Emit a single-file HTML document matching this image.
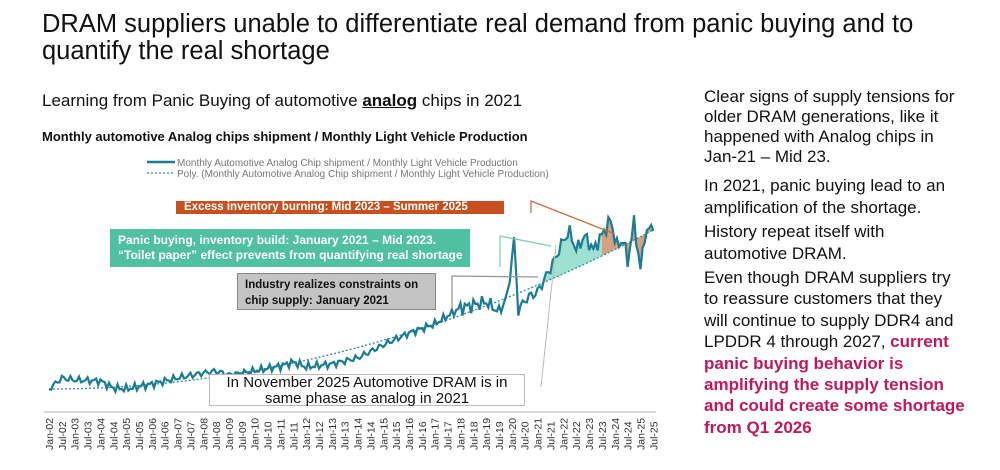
<!DOCTYPE html>
<html><head><meta charset="utf-8"><style>
body{margin:0;width:1000px;height:470px;background:#fff;font-family:"Liberation Sans",Arial,sans-serif;overflow:hidden;position:relative}
.a{position:absolute;white-space:nowrap}
</style></head><body>
<div class="a" style="left:42px;top:11px;font-size:25.5px;line-height:27px;color:#111">DRAM suppliers unable to differentiate real demand from panic buying and to<br>quantify the real shortage</div>
<div class="a" style="left:42px;top:91px;font-size:17px;color:#111">Learning from Panic Buying of automotive <b><u>analog</u></b> chips in 2021</div>
<div class="a" style="left:42px;top:129px;font-size:13px;font-weight:bold;color:#111">Monthly automotive Analog chips shipment / Monthly Light Vehicle Production</div>
<div class="a" style="left:704px;top:87px;font-size:17px;line-height:20px;color:#111">Clear signs of supply tensions for<br>older DRAM generations, like it<br>happened with Analog chips in<br>Jan-21 – Mid 23.</div>
<div class="a" style="left:704px;top:175px;font-size:17px;line-height:22px;color:#111">In 2021, panic buying lead to an<br>amplification of the shortage.</div>
<div class="a" style="left:704px;top:221px;font-size:17px;line-height:22px;color:#111">History repeat itself with<br>automotive DRAM.</div>
<div class="a" style="left:704px;top:267px;font-size:17px;line-height:21.4px;color:#111">Even though DRAM suppliers try<br>to reassure customers that they<br>will continue to supply DDR4 and<br>LPDDR 4 through 2027, <b style="color:#c2185b">current</b><br><b style="color:#c2185b">panic buying behavior is</b><br><b style="color:#c2185b">amplifying the supply tension</b><br><b style="color:#c2185b">and could create some shortage</b><br><b style="color:#c2185b">from Q1 2026</b></div>
<svg id="s" class="a" style="left:0;top:0" width="700" height="470"></svg>
<div class="a" style="left:176px;top:201px;width:328px;height:13px;background:#c8501e;color:#fff;font-size:11.5px;font-weight:bold;line-height:13px;padding-left:8px;box-sizing:border-box">Excess inventory burning: Mid 2023 – Summer 2025</div>
<div class="a" style="left:110px;top:229px;width:360px;height:38px;background:#4fc0a0;color:#fff;font-size:12px;font-weight:bold;line-height:15px;padding:4px 0 0 8px;box-sizing:border-box">Panic buying, inventory build: January 2021 – Mid 2023.<br>“Toilet paper” effect prevents from quantifying real shortage</div>
<div class="a" style="left:237px;top:273px;width:199px;height:37px;background:#c4c4c4;border:1px solid #888;color:#111;font-size:11.5px;font-weight:bold;line-height:16px;padding:3px 0 0 7px;box-sizing:border-box">Industry realizes constraints on<br>chip supply: January 2021</div>
<div class="a" style="left:209px;top:374px;width:316px;height:32px;background:#fff;border:1px solid #bbb;color:#111;font-size:15px;line-height:16px;text-align:center;box-sizing:border-box">In November 2025 Automotive DRAM is in<br>same phase as analog in 2021</div>
<script>
const s=document.getElementById('s');let h='';
const X=i=>49+i*2.143,T=i=>389-0.002*i*i;
const A=[[0,389],[6,378],[12,380],[24,381],[30,388],[36,389],[48,384],[60,378],[72,373],[78,371],[84,375],[96,371],[108,366],[114,362],[120,367],[132,364],[144,358],[156,345],[168,333],[180,324],[192,308],[204,302],[210,312],[214,295],[217,240],[219,310],[223,298],[228,292],[234,268],[237,255],[240,240],[243,232],[246,250],[250,236],[254,250],[258,235],[262,220],[265,246],[268,240],[270,262],[273,222],[276,270],[278,235],[280,230],[282,224]];
const Y=[];
for(let i=0;i<=282;i++){let k=0;while(A[k+1]&&A[k+1][0]<i)k++;let a=A[k],b=A[k+1]||a;let t=b[0]==a[0]?0:(i-a[0])/(b[0]-a[0]);let y=a[1]+(b[1]-a[1])*t;
let n=Math.sin(i*1.7)*2.5+Math.sin(i*3.1)*2;if(i>190)n*=1.8;Y.push(y+n);}
function fill(a,b,c){let p=[];for(let i=a;i<=b;i++)p.push(X(i)+','+Y[i]);for(let i=b;i>=a;i--)p.push(X(i)+','+T(i));h+=`<polygon points="${p.join(' ')}" fill="${c}"/>`;}
fill(228,258,'rgba(80,200,170,0.55)');fill(258,282,'rgba(190,110,60,0.65)');
let tp=[];for(let i=0;i<=282;i+=3)tp.push(X(i)+','+T(i));
h+=`<polyline points="${tp.join(' ')}" fill="none" stroke="#2a8aa0" stroke-width="1.3" stroke-dasharray="2,2"/>`;
h+=`<polyline points="${Y.map((y,i)=>X(i)+','+y).join(' ')}" fill="none" stroke="#1b7c95" stroke-width="2.2"/>`;
h+=`<line x1="44" y1="412" x2="656" y2="412" stroke="#ccc" stroke-width="1.5"/>`;
h+=`<line x1="147" y1="162" x2="175" y2="162" stroke="#1b7c95" stroke-width="2.5"/><line x1="147" y1="173" x2="175" y2="173" stroke="#2a8aa0" stroke-width="1.3" stroke-dasharray="2,2"/>`;
h+=`<text x="177" y="166" font-size="10" fill="#777">Monthly Automotive Analog Chip shipment / Monthly Light Vehicle Production</text><text x="177" y="177" font-size="10" fill="#777">Poly. (Monthly Automotive Analog Chip shipment / Monthly Light Vehicle Production)</text>`;
h+=`<polyline points="531,213 531,201 615,234" fill="none" stroke="#c8703e" stroke-width="1.3"/>`;
h+=`<polyline points="500,267 500,236 551,246" fill="none" stroke="#7fcfb8" stroke-width="1.3"/>`;
h+=`<polyline points="452,309 452,276 538,277" fill="none" stroke="#999" stroke-width="1.3"/>`;
h+=`<line x1="541" y1="387" x2="556" y2="245" stroke="#bbb" stroke-width="1"/>`;
for(let j=0;j<48;j++){const yr=2002+Math.floor(j/2);const lab=(j%2?'Jul-':'Jan-')+String(yr).slice(2);const x=X(j*6)+4;
h+=`<text transform="translate(${x},450) rotate(-90)" font-size="10.5" fill="#333">${lab}</text>`;}
s.innerHTML=h;
</script>
</body></html>
